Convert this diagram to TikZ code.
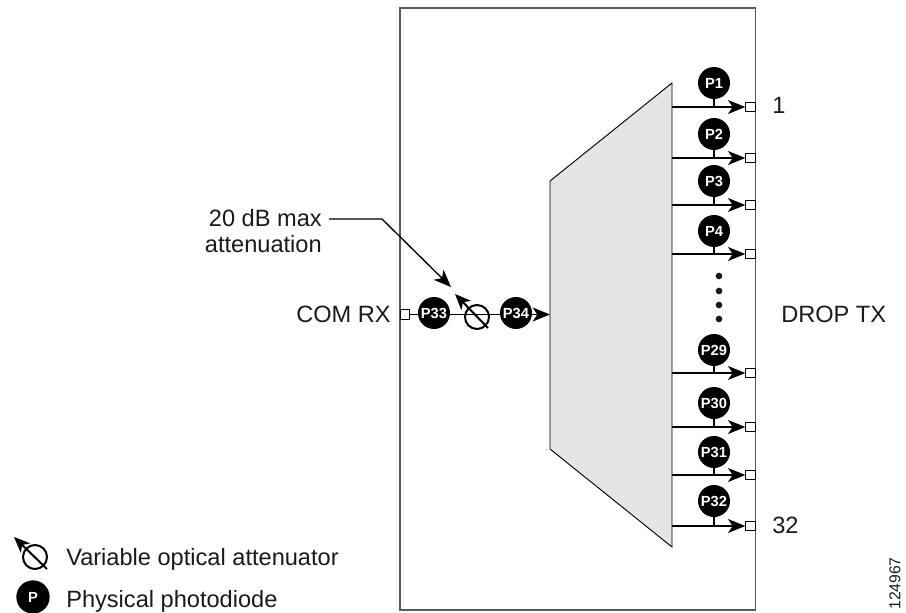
\documentclass[tikz,border=0pt]{standalone}
\usepackage{fontspec}
\setmainfont{Liberation Sans}
\usetikzlibrary{arrows.meta}
\definecolor{ink}{HTML}{1A1A1A}
\tikzset{
  x=0.75pt,y=-0.75pt,
  lbl/.style={font=\fontsize{17.7}{20}\selectfont,text=ink,inner sep=0pt},
  pd/.style={circle,fill=black,minimum size=24pt,inner sep=0pt,text=white,font=\fontsize{11}{12}\bfseries\selectfont},
  port/.style={draw=black,fill=white,line width=0.6pt,minimum size=7.2pt,inner sep=0pt},
  conn/.style={draw=black,line width=1pt},
  arr/.style={conn,-{Stealth[length=13pt,width=10.5pt,inset=3.5pt]}},
  voa/.style={circle,draw=black,line width=1.5pt,minimum size=18pt,inner sep=0pt},
  voaarrow/.style={draw=black,line width=1.5pt,-{Stealth[length=12pt,width=10pt,inset=3.5pt]}},
}
\begin{document}
\begin{tikzpicture}
\useasboundingbox (0,0) rectangle (906,613);
% enclosure
\draw[draw=black!65!white,line width=1pt] (400,8) rectangle (755.5,610);
% demux
\draw[fill=black!10,draw=black,line width=0.7pt] (550,181) -- (672,83) -- (672,547) -- (550,449) -- cycle;
% outputs
\foreach \n/\ly/\cy/\t in {1/107/83/P1,2/158/134/P2,3/205/181/P3,4/254/231/P4,29/373/350/P29,30/427/403/P30,31/475/452/P31,32/526/501/P32}{
  \coordinate (out\n) at (672,\ly);
  \coordinate (tap\n) at (714,\ly);
  \node[port] (drop\n) at (750.5,\ly) {};
  \node[pd] (ph\n) at (714,\cy) {\t};
  \draw[conn] (ph\n) -- (tap\n);
  \draw[arr] (out\n) -- (drop\n.west);
}
% dots
\foreach \i/\y in {1/276,2/291,3/305,4/319}{
  \node[circle,fill=black!90,minimum size=5pt,inner sep=0pt] (dot\i) at (719,\y) {};
}
% input line
\node[port] (com) at (405,314.5) {};
\coordinate (demuxin) at (550,314.5);
\draw[arr] (com.east) -- (demuxin);
\node[pd] (p33) at (434,313) {P33};
\node[pd] (p34) at (516,313) {P34};
\node[voa] (voa1) at (477,317) {};
\coordinate (voa1a) at (455,294);
\coordinate (voa1b) at (488,328);
\draw[voaarrow] (voa1b) -- (voa1a);
% callout
\node[lbl,anchor=base east] (cap1) at (322,226) {20 dB max};
\node[lbl,anchor=base east] (cap2) at (322,252) {attenuation};
\coordinate (capstart) at (329,219);
\coordinate (bend) at (382,219);
\coordinate (captip) at (451,287);
\draw[conn,-{Stealth[length=13pt,width=10.5pt,inset=3.5pt]}] (capstart) -- (bend) -- (captip);
% labels
\node[lbl,anchor=base east] (comrx) at (391,322) {COM RX};
\node[lbl,anchor=base west] (droptx) at (781,322) {DROP TX};
\node[lbl,anchor=base west] (one) at (772,114) {1};
\node[lbl,anchor=base west] (thirtytwo) at (772,533) {32};
\node[font=\fontsize{11.8}{12}\selectfont,text=ink,inner sep=0pt,rotate=90,anchor=west] (fig) at (895,610) {124967};
% legend
\node[voa] (voa2) at (35,557) {};
\coordinate (voa2a) at (14,537);
\coordinate (voa2b) at (47,569);
\draw[voaarrow] (voa2b) -- (voa2a);
\node[lbl,anchor=base west] (lg1) at (66,565) {Variable optical attenuator};
\node[pd,minimum size=25pt] (lgp) at (33,597) {P};
\node[lbl,anchor=base west] (lg2) at (66,607) {Physical photodiode};
\end{tikzpicture}
\end{document}
